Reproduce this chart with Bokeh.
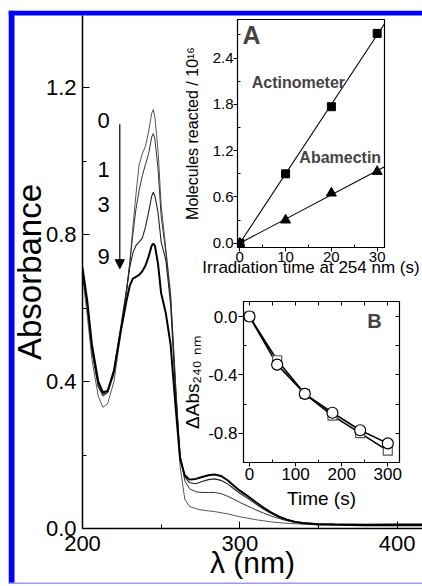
from bokeh.plotting import figure
from bokeh.models import (Range1d, LinearAxis, Arrow, NormalHead, Label,
                          FixedTicker, NumeralTickFormatter)
from bokeh.embed import file_html
from bokeh.resources import INLINE
from bokeh.core.properties import value

FONT = "Liberation Sans"

# ---------------- main spectra ----------------
wavelength = [200, 203, 206, 210, 213, 216, 220, 224, 228, 230,
              232, 234, 236, 238, 240, 242, 244, 245, 246, 248,
              250, 253, 256, 259, 262, 265, 268, 272, 276, 280,
              284, 288, 292, 296, 300, 305, 310, 315, 320, 325,
              330, 335, 340, 350, 360, 380, 400, 420]
abs_0 = [0.69, 0.58, 0.46, 0.36, 0.33, 0.34, 0.40, 0.52, 0.64, 0.72,
         0.82, 0.91, 0.99, 1.02, 1.04, 1.08, 1.13, 1.14, 1.12, 1.03,
         0.88, 0.76, 0.64, 0.41, 0.17, 0.08, 0.06, 0.054, 0.05, 0.048,
         0.046, 0.043, 0.04, 0.036, 0.032, 0.028, 0.024, 0.021, 0.018, 0.016,
         0.014, 0.013, 0.012, 0.011, 0.011, 0.012, 0.013, 0.013]
abs_1 = [0.70, 0.60, 0.48, 0.385, 0.36, 0.37, 0.42, 0.53, 0.65, 0.72,
         0.80, 0.87, 0.92, 0.96, 0.99, 1.02, 1.065, 1.075, 1.06, 0.98,
         0.85, 0.75, 0.63, 0.40, 0.20, 0.13, 0.108, 0.10, 0.098, 0.098,
         0.098, 0.095, 0.088, 0.080, 0.071, 0.061, 0.051, 0.042, 0.034, 0.027,
         0.021, 0.017, 0.015, 0.013, 0.012, 0.011, 0.011, 0.011]
abs_3 = [0.70, 0.61, 0.49, 0.39, 0.365, 0.37, 0.43, 0.54, 0.65, 0.71,
         0.75, 0.77, 0.78, 0.79, 0.82, 0.86, 0.905, 0.915, 0.905, 0.86,
         0.78, 0.73, 0.61, 0.38, 0.20, 0.14, 0.125, 0.122, 0.128, 0.133,
         0.135, 0.131, 0.122, 0.109, 0.096, 0.082, 0.067, 0.053, 0.041, 0.031,
         0.024, 0.019, 0.016, 0.013, 0.012, 0.011, 0.010, 0.010]
abs_9 = [0.71, 0.62, 0.50, 0.40, 0.37, 0.375, 0.43, 0.53, 0.62, 0.66,
         0.68, 0.685, 0.69, 0.70, 0.715, 0.74, 0.77, 0.775, 0.77, 0.72,
         0.64, 0.585, 0.50, 0.34, 0.19, 0.145, 0.133, 0.135, 0.14, 0.145,
         0.147, 0.143, 0.132, 0.117, 0.103, 0.088, 0.072, 0.057, 0.043, 0.032,
         0.024, 0.018, 0.014, 0.011, 0.010, 0.009, 0.009, 0.009]

curve_labels = ["0", "1", "3", "9"]
curve_label_wl = [213.5, 213.5, 213.5, 213.5]
curve_label_abs = [1.109, 0.976, 0.883, 0.739]
arrow_wl = 223.7
arrow_from_abs = 1.10
arrow_to_abs = 0.707

main_x_ticks = [200, 300, 400]
main_x_minor = [250, 350]
main_y_ticks = [0.0, 0.4, 0.8, 1.2]
main_y_minor = [0.2, 0.6, 1.0]

# ---------------- inset A ----------------
irr_time = [0, 10, 20, 30]
actinometer = [0.0, 0.90, 1.77, 2.72]
abamectin = [0.0, 0.30, 0.65, 0.93]
a_x_ticks = [0, 10, 20, 30]
a_x_minor = [5, 15, 25]
a_y_ticks = [0.0, 0.6, 1.2, 1.8, 2.4]
a_y_minor = [0.3, 0.9, 1.5, 2.1, 2.7]

# ---------------- inset B ----------------
time_s = [0, 60, 120, 180, 240, 300]
dabs_circle = [0.0, -0.33, -0.53, -0.66, -0.78, -0.87]
dabs_square = [0.0, -0.30, -0.53, -0.68, -0.80, -0.92]
b_x_ticks = [0, 100, 200, 300]
b_x_minor = [50, 150, 250]
b_y_ticks = [0.0, -0.4, -0.8]
b_y_minor = [-0.2, -0.6, -1.0]
b_top_ticks = [0, 50, 100, 150, 200, 250, 300]
b_right_ticks = [0.0, -0.2, -0.4, -0.6, -0.8, -1.0]


def style_axis(ax, label_size, tick_in, tick_out, minor_in, minor_out, standoff):
    ax.major_label_text_font = FONT
    ax.major_label_text_font_size = label_size
    ax.major_label_text_color = "black"
    ax.axis_label_text_font = FONT
    ax.axis_label_text_font_style = "normal"
    ax.axis_label_text_color = "black"
    ax.major_tick_in = tick_in
    ax.major_tick_out = tick_out
    ax.minor_tick_in = minor_in
    ax.minor_tick_out = minor_out
    ax.major_label_standoff = standoff
    ax.axis_line_color = "black"
    ax.major_tick_line_color = "black"
    ax.minor_tick_line_color = "black"


def place(left, top):
    return {"position": "absolute", "left": f"{left}px", "top": f"{top}px"}


# ================= main figure =================
main = figure(width=422, height=586, x_range=Range1d(200, 416.1), y_range=Range1d(0, 1.396),
              output_backend="svg", toolbar_location=None,
              min_border_left=82, min_border_right=0, min_border_top=15, min_border_bottom=58,
              styles=place(0, 0))
main.outline_line_color = None
main.grid.visible = False
main.background_fill_color = "white"
main.border_fill_color = "white"

main.xaxis.ticker = FixedTicker(ticks=main_x_ticks, minor_ticks=main_x_minor)
main.yaxis.ticker = FixedTicker(ticks=main_y_ticks, minor_ticks=main_y_minor)
main.yaxis.formatter = NumeralTickFormatter(format="0.0")
style_axis(main.xaxis[0], "22px", 7, 0, 4, 0, 7)
style_axis(main.yaxis[0], "22px", 7, 0, 4, 0, 6)
main.xaxis.axis_line_width = 1.5
main.yaxis.axis_line_width = 1.5
main.xaxis.axis_label = "λ (nm)"
main.xaxis.axis_label_text_font_size = "30px"
main.xaxis.axis_label_standoff = -8
main.yaxis.axis_label = "Absorbance"
main.yaxis.axis_label_text_font_size = "33px"
main.yaxis.axis_label_standoff = -5

main.line(wavelength, abs_0, line_color="#444444", line_width=0.9)
main.line(wavelength, abs_1, line_color="#333333", line_width=1.0)
main.line(wavelength, abs_3, line_color="#222222", line_width=1.1)
main.line(wavelength, abs_9, line_color="black", line_width=2.0)

main.text(x=curve_label_wl, y=curve_label_abs, text=curve_labels, text_font=value(FONT),
          text_font_size="22px", text_align="center", text_baseline="middle", text_color="black")
main.add_layout(Arrow(end=NormalHead(size=9, fill_color="black", line_color="black"),
                      x_start=arrow_wl, y_start=arrow_from_abs, x_end=arrow_wl, y_end=arrow_to_abs,
                      line_width=1.2, line_color="black"))

# ================= inset A =================
pA = figure(frame_width=147, frame_height=228, x_range=Range1d(-0.5, 31.6), y_range=Range1d(-0.055, 2.90),
            output_backend="svg", toolbar_location=None,
            min_border_left=90, min_border_top=2, min_border_right=38, min_border_bottom=40,
            styles=place(147, 17))
pA.background_fill_alpha = 0
pA.border_fill_alpha = 0
pA.grid.visible = False
pA.outline_line_color = "black"
pA.outline_line_width = 1.2
pA.xaxis.ticker = FixedTicker(ticks=a_x_ticks, minor_ticks=a_x_minor)
pA.yaxis.ticker = FixedTicker(ticks=a_y_ticks, minor_ticks=a_y_minor)
pA.yaxis.formatter = NumeralTickFormatter(format="0.0")
style_axis(pA.xaxis[0], "15px", 0, 4, 3, 0, 0)
style_axis(pA.yaxis[0], "15px", 0, 4, 3, 0, 0)
pA.xaxis.axis_label = "Irradiation time at 254 nm (s)"
pA.xaxis.axis_label_text_font_size = "17px"
pA.xaxis.axis_label_standoff = -7
pA.yaxis.axis_label = "Molecules reacted / 10¹⁶"
pA.yaxis.axis_label_text_font_size = "16px"
pA.yaxis.axis_label_standoff = 9

act_slope = sum(t * v for t, v in zip(irr_time, actinometer)) / sum(t * t for t in irr_time)
aba_slope = sum(t * v for t, v in zip(irr_time, abamectin)) / sum(t * t for t in irr_time)
fit_t = [0, pA.x_range.end]
pA.line(fit_t, [act_slope * t for t in fit_t], line_color="black", line_width=1.1)
pA.line(fit_t, [aba_slope * t for t in fit_t], line_color="black", line_width=1.1)
pA.scatter(irr_time, actinometer, marker="square", size=8, fill_color="black", line_color="black")
pA.scatter(irr_time, abamectin, marker="triangle", size=10, fill_color="black", line_color="black")
pA.add_layout(Label(x=0.6, y=2.70, text="A", text_font=FONT, text_font_size="25px",
                    text_font_style="bold", text_baseline="middle", text_align="left"))
pA.add_layout(Label(x=2.6, y=2.08, text="Actinometer", text_font=FONT, text_font_size="16px",
                    text_font_style="bold", text_baseline="middle", text_align="left"))
pA.add_layout(Label(x=13.0, y=1.11, text="Abamectin", text_font=FONT, text_font_size="16px",
                    text_font_style="bold", text_baseline="middle", text_align="left"))

# ================= inset B =================
pB = figure(frame_width=156, frame_height=161, x_range=Range1d(-13, 325.4), y_range=Range1d(-1.001, 0.103),
            output_backend="svg", toolbar_location=None,
            min_border_left=90, min_border_top=16, min_border_right=16, min_border_bottom=56,
            styles=place(153, 285))
pB.background_fill_alpha = 0
pB.border_fill_alpha = 0
pB.grid.visible = False
pB.outline_line_color = "black"
pB.outline_line_width = 1.2
pB.xaxis.ticker = FixedTicker(ticks=b_x_ticks, minor_ticks=b_x_minor)
pB.yaxis.ticker = FixedTicker(ticks=b_y_ticks, minor_ticks=b_y_minor)
pB.yaxis.formatter = NumeralTickFormatter(format="0.0")
style_axis(pB.xaxis[0], "17px", 0, 4, 3, 0, 1)
style_axis(pB.yaxis[0], "17px", 0, 5, 3, 0, 1)
pB.xaxis.axis_label = "Time (s)"
pB.xaxis.axis_label_text_font_size = "19px"
pB.xaxis.axis_label_standoff = 5
pB.yaxis.axis_label = "ΔAbs₂₄₀ ₙₘ"
pB.yaxis.axis_label_text_font_size = "19px"
pB.yaxis.axis_label_standoff = 2
top_ax = LinearAxis(ticker=FixedTicker(ticks=b_top_ticks))
right_ax = LinearAxis(ticker=FixedTicker(ticks=b_right_ticks))
for ax in (top_ax, right_ax):
    style_axis(ax, "0px", 4, 0, 0, 0, 0)
    ax.major_label_text_alpha = 0
pB.add_layout(top_ax, "above")
pB.add_layout(right_ax, "right")

pB.line(time_s, dabs_square, line_color="black", line_width=1.6)
pB.line(time_s, dabs_circle, line_color="black", line_width=1.6)
pB.scatter(time_s, dabs_square, marker="square", size=9, fill_color="white", line_color="#555555",
           line_width=1.2)
pB.scatter(time_s, dabs_circle, marker="circle", size=11, fill_color="white", line_color="black",
           line_width=1.2)
pB.add_layout(Label(x=271, y=-0.03, text="B", text_font=FONT, text_font_size="20px",
                    text_font_style="bold", text_baseline="middle", text_align="center"))

# ================= blue page frame: transparent overlay in pixel units =================
frame_w, frame_h = 414, 574
ov = figure(width=frame_w, height=frame_h, min_border=0, toolbar_location=None, output_backend="svg",
            x_axis_type=None, y_axis_type=None,
            x_range=Range1d(0, frame_w), y_range=Range1d(frame_h, 0),
            styles=place(8, 10))
ov.background_fill_alpha = 0
ov.border_fill_alpha = 0
ov.outline_line_color = None
ov.grid.visible = False
ov.quad(left=[0, 0], right=[6, frame_w], top=[0, 0], bottom=[frame_h, 5],
        fill_color="#0000ff", line_alpha=0)
ov.quad(left=[0], right=[frame_w], top=[frame_h - 2], bottom=[frame_h],
        fill_color="#9a9aff", line_alpha=0)

# independent roots (no frame alignment between them), stacked by absolute positioning
open("out.html", "w").write(file_html([main, pA, pB, ov], INLINE))
